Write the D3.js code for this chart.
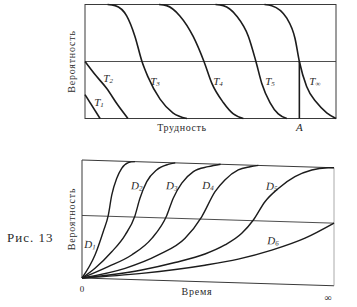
<!DOCTYPE html>
<html>
<head>
<meta charset="utf-8">
<title>Рис. 13</title>
<script src="https://cdn.jsdelivr.net/npm/d3@7/dist/d3.min.js"></script>
<style type="text/css">
body { margin: 0; background: #fff; }
.frame { fill: none; stroke: #3a3a3a; stroke-width: 1; }
.mid { stroke: #3a3a3a; stroke-width: 0.9; }
.curve { fill: none; stroke: #1c1c1c; stroke-width: 1.6; }
</style>
</head>
<body>
<svg width="357" height="307" font-family="'Liberation Serif', 'DejaVu Serif', 'Times New Roman', serif" fill="#2a2a2a"></svg>
<script type="text/javascript">
// верхний график: вероятность от трудности (x 0..100, y 0..1)
var T1 = [[0,0.21],[6,0]];
var T2 = [[0,0.5],[4,0.385],[8.6,0.265],[13,0.12],[17.1,0]];
var T3 = [[9,1],[12,0.99],[16.6,0.9],[19.9,0.72],[22.7,0.5],[25,0.37],[29.9,0.17],[35,0.05],[40.6,0]];
var T4 = [[29.5,1],[32.5,0.99],[37.8,0.9],[43.1,0.72],[47.4,0.5],[50.5,0.31],[55.1,0.14],[59.1,0.04],[63.1,0]];
var T5 = [[52,1],[55.1,0.99],[60.4,0.9],[65.1,0.72],[68.1,0.5],[70.4,0.31],[73.7,0.14],[77,0.04],[80.4,0]];
var Tinf = [[71.5,1],[74.4,0.99],[80.4,0.88],[83.7,0.7],[85.4,0.5],[88.3,0.28],[92.3,0.14],[96.3,0.05],[100,0]];
var tNames = ["1","2","3","4","5","\u221E"];
var topMid = 0.5;
var pointA = 85.4;

// нижний график: вероятность от времени
var D1 = [[0,0],[5.2,0.2],[8.45,0.4],[10.4,0.535],[11.8,0.71],[13.8,0.854],[15.75,0.94],[18.4,0.99],[21,1]];
var D2 = [[0,0],[5.16,0.086],[11.8,0.23],[17.1,0.375],[21,0.54],[23,0.69],[25.7,0.833],[29.6,0.935],[34.2,0.985],[37,1]];
var D3 = [[0,0],[10.4,0.103],[19.7,0.208],[27.7,0.354],[33.6,0.55],[36.2,0.7],[39.6,0.83],[44.2,0.93],[50.1,0.976],[55,1]];
var D4 = [[0,0],[17.1,0.093],[30.3,0.215],[40.9,0.363],[47.5,0.55],[52.8,0.766],[56.7,0.868],[62,0.956],[66.7,0.986],[70,1]];
var D5 = [[0,0],[23.7,0.083],[36.9,0.155],[48.8,0.235],[56.7,0.317],[63.4,0.42],[68,0.536],[72.6,0.694],[77.9,0.81],[84.5,0.914],[91.2,0.975],[97.7,0.998],[100,1]];
var D6 = [[0,0],[23.7,0.055],[48.8,0.14],[62,0.2],[75.3,0.285],[88.5,0.395],[100,0.53]];
var dNames = ["1","2","3","4","5","6"];
var botMid = 0.53;

var svg = d3.select("svg");
var serif = "'Liberation Serif', 'DejaVu Serif', serif";

// ---------- верхний ----------
var xT = d3.scaleLinear().domain([0,100]).range([85,336]);
var yT = d3.scaleLinear().domain([0,1]).range([118.5,4.5]);
var gT = svg.append("g");
gT.append("rect").attr("class","frame")
  .attr("x",xT(0)).attr("y",yT(1)).attr("width",xT(100)-xT(0)).attr("height",yT(0)-yT(1));
gT.append("line").attr("class","mid")
  .attr("x1",xT(0)).attr("x2",xT(100)).attr("y1",yT(topMid)).attr("y2",yT(topMid));
var lineT = d3.line().curve(d3.curveMonotoneX).x(function(d){return xT(d[0]);}).y(function(d){return yT(d[1]);});
[T1,T2,T3,T4,T5,Tinf].forEach(function(c){
  gT.append("path").attr("class","curve").attr("d",lineT(c));
});
gT.append("line").attr("class","curve")
  .attr("x1",xT(pointA)).attr("x2",xT(pointA)).attr("y1",yT(topMid)).attr("y2",yT(0));

var tLabelPos = [[5.6,0.14],[9.2,0.35],[27.9,0.32],[53,0.32],[73.7,0.32],[91.6,0.32]];
tNames.forEach(function(n,i){
  var t = gT.append("text").attr("x",xT(tLabelPos[i][0])).attr("y",yT(tLabelPos[i][1]))
    .attr("text-anchor","middle").attr("dominant-baseline","middle")
    .style("font-family",serif).style("font-size","11px").style("font-style","italic");
  t.append("tspan").text("T");
  t.append("tspan").attr("dy",2).style("font-size","7px").text(n);
});
gT.append("text").attr("transform","translate(75,"+yT(0.5)+") rotate(-90)")
  .attr("text-anchor","middle").style("font-family",serif).style("font-size","10px").style("letter-spacing","0.8px").text("Вероятность");
gT.append("text").attr("x",182).attr("y",131).attr("text-anchor","middle")
  .style("font-family",serif).style("font-size","10px").style("letter-spacing","0.6px").text("Трудность");
gT.append("text").attr("x",xT(pointA)).attr("y",131).attr("text-anchor","middle")
  .style("font-family",serif).style("font-size","11px").style("font-style","italic").text("A");

// ---------- нижний (скан слегка перекошен) ----------
var xB = d3.scaleLinear().domain([0,100]).range([82,334]);
var yB = d3.scaleLinear().domain([0,1]).range([278,160]);
var gB = svg.append("g").attr("transform","translate(82,0) skewY(1.75) translate(-82,0)");
gB.append("line").attr("class","frame").attr("x1",xB(0)).attr("x2",xB(100)).attr("y1",yB(1)).attr("y2",yB(1));
gB.append("line").attr("class","frame").attr("x1",xB(0)).attr("x2",xB(100)).attr("y1",yB(0)).attr("y2",yB(0));
gB.append("line").attr("class","frame").attr("x1",xB(0)).attr("x2",xB(0)).attr("y1",yB(0)).attr("y2",yB(1));
gB.append("line").attr("class","frame").style("stroke","#888").style("stroke-width",0.7)
  .attr("x1",xB(100)).attr("x2",xB(100)).attr("y1",yB(0)).attr("y2",yB(1));
gB.append("line").attr("class","mid")
  .attr("x1",xB(0)).attr("x2",xB(100)).attr("y1",yB(botMid)).attr("y2",yB(botMid));
var lineB = d3.line().curve(d3.curveMonotoneX).x(function(d){return xB(d[0]);}).y(function(d){return yB(d[1]);});
[D1,D2,D3,D4,D5,D6].forEach(function(c){
  gB.append("path").attr("class","curve").style("stroke-width",1.4).attr("d",lineB(c));
});
var dLabelPos = [[3.2,0.28],[21.7,0.79],[35.6,0.8],[50,0.81],[75.3,0.82],[75.8,0.36]];
dNames.forEach(function(n,i){
  var t = gB.append("text").attr("x",xB(dLabelPos[i][0])).attr("y",yB(dLabelPos[i][1]))
    .attr("text-anchor","middle").attr("dominant-baseline","middle")
    .style("font-family",serif).style("font-size","11px").style("font-style","italic");
  t.append("tspan").text("D");
  t.append("tspan").attr("dy",2).style("font-size","7px").text(n);
});
svg.append("text").attr("transform","translate(75,"+yB(0.5)+") rotate(-90)")
  .attr("text-anchor","middle").style("font-family",serif).style("font-size","10px").style("letter-spacing","0.8px").text("Вероятность");
svg.append("text").attr("x",197).attr("y",295).attr("text-anchor","middle")
  .style("font-family",serif).style("font-size","10px").style("letter-spacing","0.8px").text("Время");
svg.append("text").attr("x",82).attr("y",292).attr("text-anchor","middle").style("font-family",serif).style("font-size","9px").text("0");
svg.append("text").attr("x",328).attr("y",301).attr("text-anchor","middle").style("font-family",serif).style("font-size","10px").text("\u221E");
svg.append("text").attr("x",7).attr("y",242).style("font-family",serif).style("font-size","13px").style("letter-spacing","1px").text("Рис. 13");
</script>
</body>
</html>
